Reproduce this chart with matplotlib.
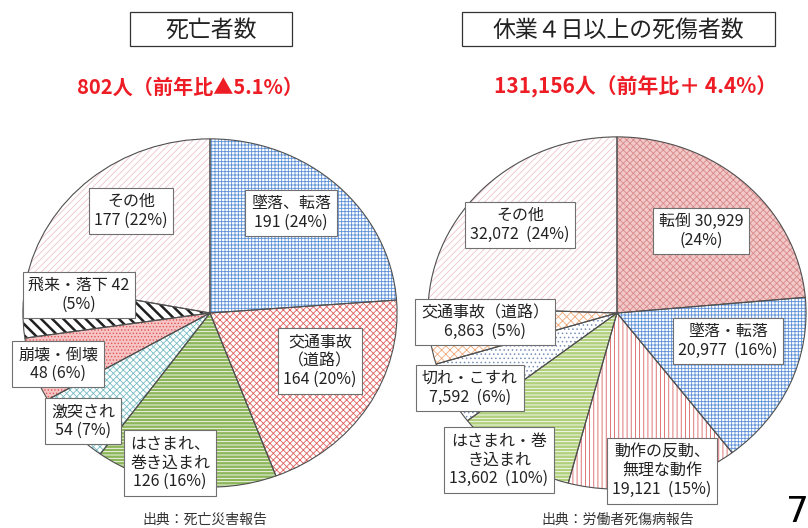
import matplotlib
matplotlib.use("Agg")
import matplotlib.pyplot as plt
from matplotlib.patches import Rectangle

plt.rcParams['font.family'] = ['Noto Sans CJK JP', 'DejaVu Sans']
plt.rcParams['hatch.linewidth'] = 0.6

W, H = 808, 528

# 死亡者数
left_names = ['墜落、転落', '交通事故\n（道路）', 'はさまれ、\n巻き込まれ', '激突され',
              '崩壊・倒壊', '飛来・落下', 'その他']
left_values = [191, 164, 126, 54, 48, 42, 177]
left_fmt = ['{n}\n{v} ({p}%)', '{n}\n{v} ({p}%)', '{n}\n{v} ({p}%)', '{n}\n{v} ({p}%)',
            '{n}\n{v} ({p}%)', '{n} {v}\n({p}%)', '{n}\n{v} ({p}%)']

# 休業4日以上の死傷者数
right_names = ['転倒', '墜落・転落', '動作の反動、\n無理な動作', 'はさまれ・巻\nき込まれ',
               '切れ・こすれ', '交通事故（道路）', 'その他']
right_values = [30929, 20977, 19121, 13602, 7592, 6863, 32072]
right_fmt = ['{n} {v}\n({p}%)', '{n}\n{v}  ({p}%)', '{n}\n{v}  ({p}%)', '{n}\n{v}  ({p}%)',
             '{n}\n{v}  ({p}%)', '{n}\n{v}  ({p}%)', '{n}\n{v}  ({p}%)']

# 塗り色, ハッチ色, ハッチ
left_style = [
    ('white', '#5b8fd6', '+++++'),
    ('white', '#e06060', 'xxxxx'),
    ('#8db65a', 'white', '-----'),
    ('white', '#78bcc4', 'xxxxx'),
    ('#f6c4c4', '#e05858', '.....'),
    ('white', '#202020', '\\\\\\'),
    ('white', '#efc4cc', '/////'),
]
right_style = [
    ('#f2c8c8', '#d88a8a', 'xxxxx'),
    ('white', '#5b8fd6', '+++++'),
    ('white', '#d86060', '||||'),
    ('#b0d07c', 'white', '-----'),
    ('white', '#7890b8', '....'),
    ('white', '#f0a878', 'xxxx'),
    ('white', '#efc4cc', '/////'),
]

# ラベル位置（ピクセル）
left_pos = [(291, 213), (320, 361), (170, 463), (83, 421), (58, 364), (79, 295), (131, 211)]
right_pos = [(701, 231), (728, 341), (662, 471), (499, 460), (470, 388), (485, 322), (520, 225)]


def labels(names, values, fmt):
    total = sum(values)
    return [f.format(n=n, v=f"{v:,}", p=round(v / total * 100))
            for n, v, f in zip(names, values, fmt)]


def draw_pie(rect, values, style):
    ax = fig.add_axes(rect)
    wedges, _ = ax.pie(values, startangle=90, counterclock=False, radius=1)
    for w, (fc, hc, h) in zip(wedges, style):
        w.set_facecolor(fc)
        w.set_edgecolor(hc)
        w.set_hatch(h)
        w.set_linewidth(0)
        if hc == '#202020' and hasattr(w, 'set_hatch_linewidth'):
            w.set_hatch_linewidth(1.8)
    # 輪郭線
    ax.pie(values, startangle=90, counterclock=False, radius=1,
           wedgeprops=dict(facecolor='none', edgecolor='#505050', linewidth=0.8))
    ax.set_aspect('auto')
    ax.set_xlim(-1.005, 1.005)
    ax.set_ylim(-1.005, 1.005)
    return ax


def px(x, y):
    return x / W, 1 - y / H


fig = plt.figure(figsize=(W / 100, H / 100), dpi=100)

draw_pie([22 / W, (H - 488) / H, 376 / W, 350 / H], left_values, left_style)
draw_pie([427 / W, (H - 490) / H, 380 / W, 354 / H], right_values, right_style)

box = dict(boxstyle='square,pad=0.35', fc='white', ec='#707070', lw=0.8)
for txt, (x, y) in zip(labels(left_names, left_values, left_fmt), left_pos):
    fig.text(*px(x, y), txt, ha='center', va='center', fontsize=11.5,
             linespacing=1.12, bbox=box, color='#222222')
for txt, (x, y) in zip(labels(right_names, right_values, right_fmt), right_pos):
    fig.text(*px(x, y), txt, ha='center', va='center', fontsize=11.5,
             linespacing=1.12, bbox=box, color='#222222')

# タイトル
for (x0, y0, w, h), title in [((130, 12, 162, 34), '死亡者数'),
                              ((462, 12, 313, 34), '休業４日以上の死傷者数')]:
    fig.add_artist(Rectangle((x0 / W, 1 - (y0 + h) / H), w / W, h / H,
                             transform=fig.transFigure, fc='white', ec='#333333', lw=0.9))
    fig.text(*px(x0 + w / 2, y0 + h / 2 + 1), title, ha='center', va='center',
             fontsize=16.5, color='#222222')

fig.text(*px(190, 87), '802人（前年比▲5.1%）', ha='center', va='center',
         fontsize=14.5, fontweight='bold', color='#ee1c25')
fig.text(*px(636, 87), '131,156人（前年比＋ 4.4%）', ha='center', va='center',
         fontsize=15, fontweight='bold', color='#ee1c25')

fig.text(*px(205, 520), '出典：死亡災害報告', ha='center', va='center',
         fontsize=10, color='#333333')
fig.text(*px(618, 520), '出典：労働者死傷病報告', ha='center', va='center',
         fontsize=10, color='#333333')

fig.text(*px(786, 522), '7', ha='left', va='baseline', fontsize=26,
         family='DejaVu Sans', color='black')

fig.savefig('out.png', dpi=100)
